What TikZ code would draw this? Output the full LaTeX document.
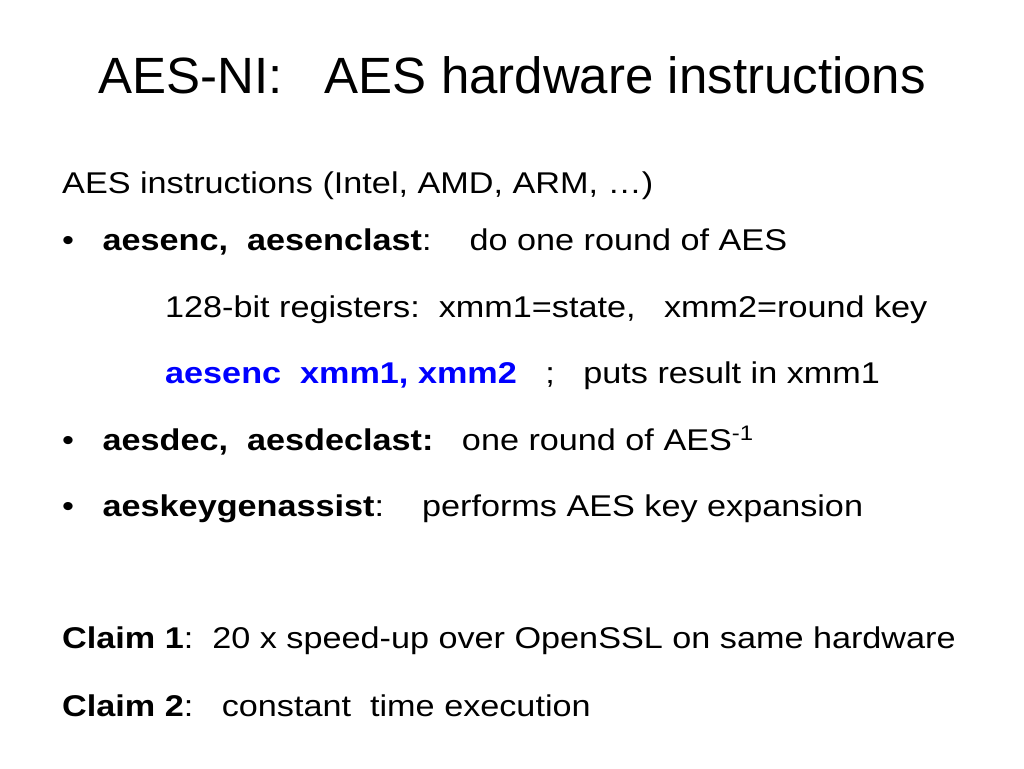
\documentclass[tikz,border=0pt]{standalone}
\usepackage{fontspec}
\setmainfont{Liberation Sans}
\newfontfamily\bodyfont[FakeStretch=1.14]{Liberation Sans}
\begin{document}
\begin{tikzpicture}[x=1pt,y=-1pt,
  txt/.style={anchor=base west,inner sep=0pt,font=\bodyfont\fontsize{30}{32}\selectfont},
  ttl/.style={anchor=base,inner sep=0pt,font=\fontsize{51}{54}\selectfont}]
\useasboundingbox (0,0) rectangle (1024,768);
\node[ttl] (title) at (512,93) {AES-NI:\ \ \ AES hardware instructions};
\node[txt] (l1) at (62,193) {AES instructions (Intel, AMD, ARM, …)};
\node[txt] (l2) at (62,250) {•\ \ \ \textbf{aesenc,\ \ aesenclast}:\ \ \ \ do one round of AES};
\node[txt] (l3) at (165,317) {128-bit registers:\ \ xmm1=state,\ \ \ xmm2=round key};
\node[txt] (l4) at (165,383) {\textcolor{blue}{\textbf{aesenc\ \ xmm1, xmm2}}\ \ \ ;\ \ \ puts result in xmm1};
\node[txt] (l5) at (62,450) {•\ \ \ \textbf{aesdec,\ \ aesdeclast:}\ \ \ one round of AES\textsuperscript{-1}};
\node[txt] (l6) at (62,516) {•\ \ \ \textbf{aeskeygenassist}:\ \ \ \ performs AES key expansion};
\node[txt] (l7) at (62,648) {\textbf{Claim 1}:\ \ 20 x speed-up over OpenSSL on same hardware};
\node[txt] (l8) at (62,716) {\textbf{Claim 2}:\ \ \ constant\ \ time execution};
\end{tikzpicture}
\end{document}
